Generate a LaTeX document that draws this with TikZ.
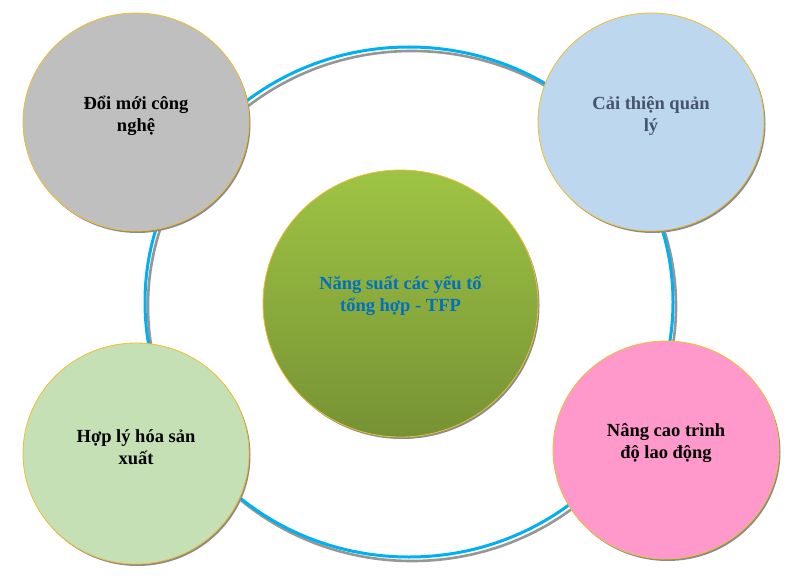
\documentclass[tikz,border=0pt]{standalone}
\usepackage{fontspec}
\setmainfont{Liberation Serif}
\usetikzlibrary{shapes.geometric,shadows}
\definecolor{ringblue}{RGB}{0,176,240}
\definecolor{ringshadow}{RGB}{150,150,150}
\definecolor{goldline}{RGB}{240,190,50}
\definecolor{cgray}{RGB}{191,191,191}
\definecolor{cblue}{RGB}{189,215,238}
\definecolor{cgreen}{RGB}{197,224,180}
\definecolor{cpink}{RGB}{255,153,204}
\definecolor{gtop}{RGB}{158,196,68}
\definecolor{gbot}{RGB}{118,146,52}
\definecolor{tblue}{RGB}{0,112,192}
\definecolor{tslate}{RGB}{68,84,106}
\begin{document}
\begin{tikzpicture}[x=1pt,y=-1pt,
  bubble/.style={ellipse, draw=goldline, line width=0.8pt, inner sep=0pt,
    minimum width=226pt, minimum height=218pt,
    drop shadow={shadow xshift=1.5pt, shadow yshift=-2pt, fill=black!45, opacity=1}},
  lbl/.style={align=center, font=\bfseries\fontsize{18.5}{22}\selectfont}]
\useasboundingbox[fill=white] (0,0) rectangle (800,583);
% ring
\draw[ringshadow, line width=2.6pt] (412,306) ellipse [x radius=264pt, y radius=255pt];
\draw[ringblue, line width=3pt] (409,302) ellipse [x radius=264pt, y radius=255pt];
% centre
\node[ellipse, draw=goldline, line width=0.8pt, inner sep=0pt,
  minimum width=275pt, minimum height=267pt,
  top color=gtop, bottom color=gbot,
  drop shadow={shadow xshift=1.5pt, shadow yshift=-2pt, fill=black!45, opacity=1}]
  (c) at (400.5,303.5) {};
\node[lbl, text=tblue] (ct) at (400.5,296) {Năng suất các yếu tố\\tổng hợp - TFP};
% outer bubbles
\node[bubble, fill=cgray] (tl) at (136,122) {};
\node[bubble, fill=cblue] (tr) at (651,122) {};
\node[bubble, fill=cgreen, minimum height=221pt] (bl) at (136,453.5) {};
\node[bubble, fill=cpink] (br) at (666,450) {};
\node[lbl, text=black] (tlt) at (136,116) {Đổi mới công\\nghệ};
\node[lbl, text=tslate] (trt) at (651,116) {Cải thiện quản\\lý};
\node[lbl, text=black] (blt) at (136,447) {Hợp lý hóa sản\\xuất};
\node[lbl, text=black] (brt) at (666,443) {Nâng cao trình\\độ lao động};
\end{tikzpicture}
\end{document}
